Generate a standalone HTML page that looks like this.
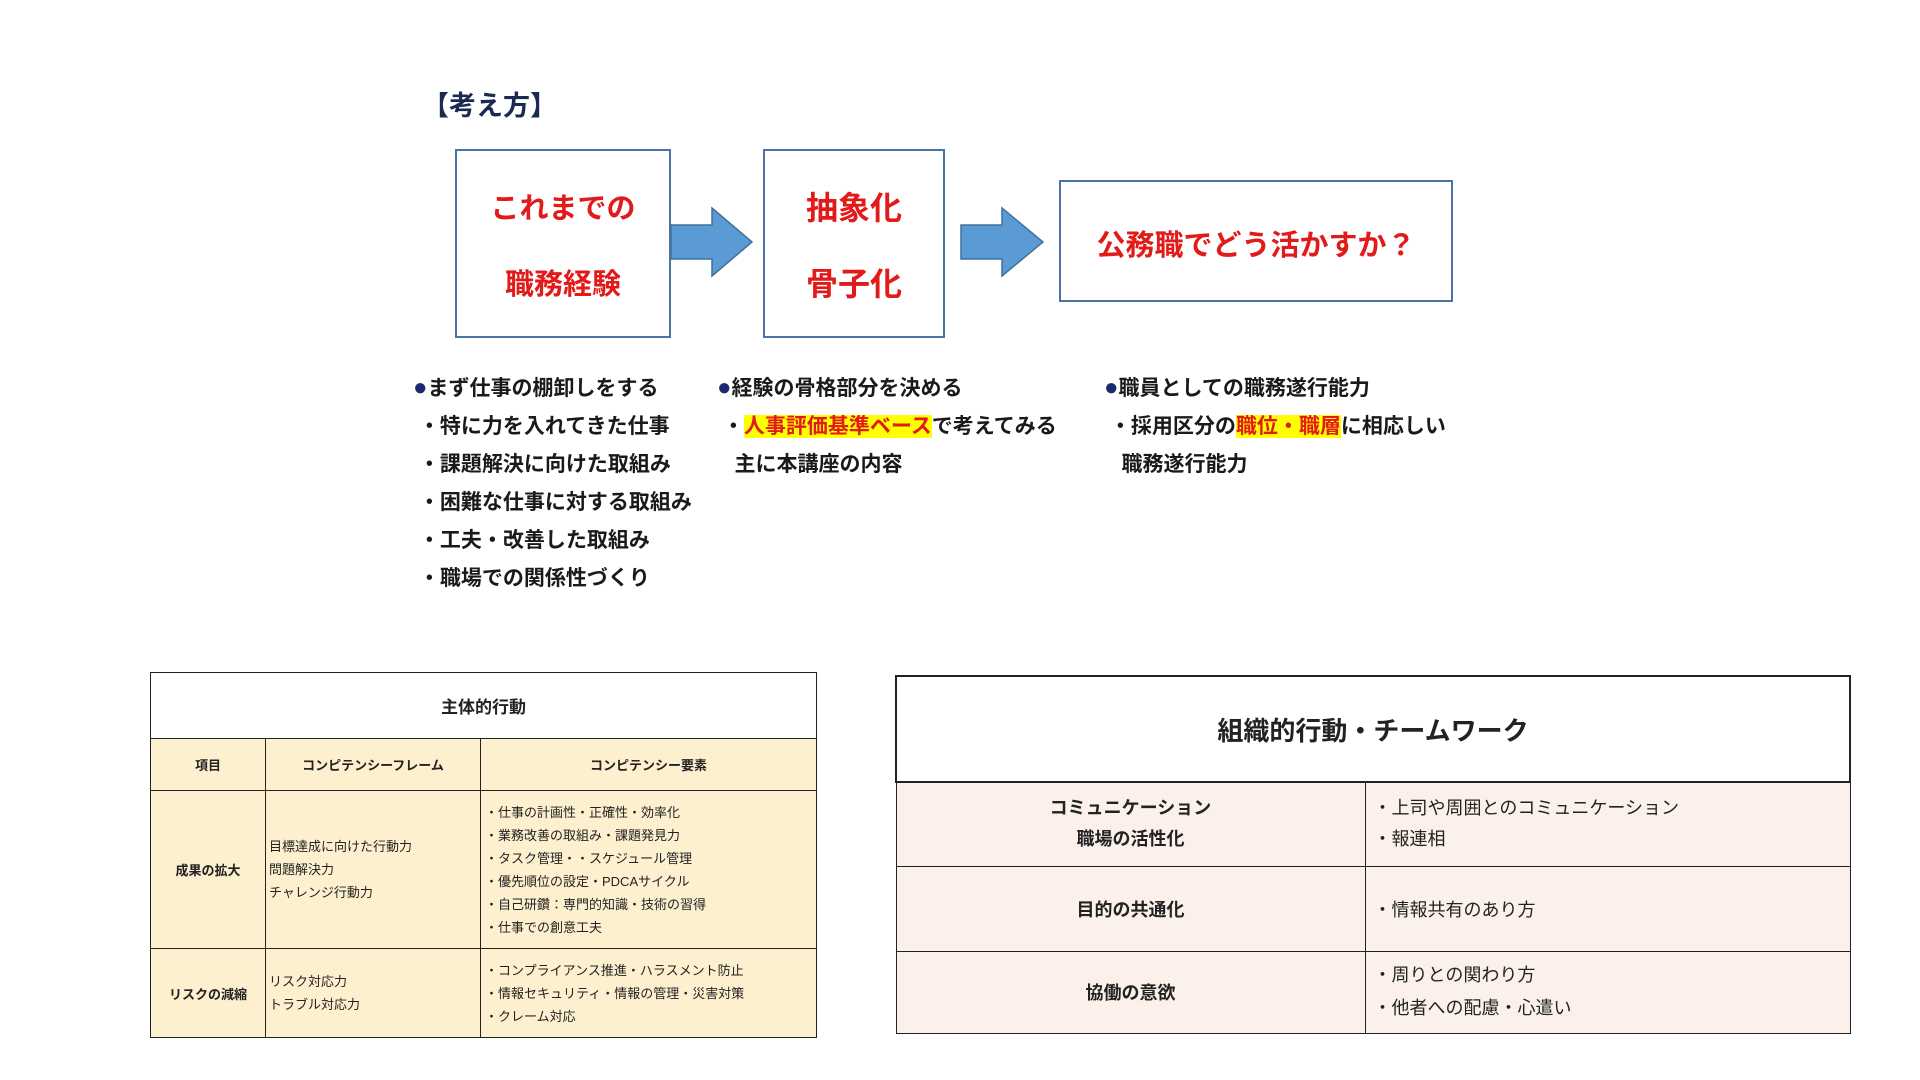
<!DOCTYPE html>
<html><head><meta charset="utf-8"><style>
body{margin:0;width:1920px;height:1080px;background:#fff;position:relative;overflow:hidden;font-family:"Liberation Sans","Noto Sans CJK JP",sans-serif;}
.a{position:absolute;white-space:nowrap}
.box{position:absolute;border:2px solid #4a74a4;box-sizing:border-box;}
.red{color:#e31a1a;font-weight:bold;text-align:center;position:absolute;left:0;right:0}
.bl{font-size:21px;font-weight:bold;color:#1a1a1a}
.hl{background:#ffff00;color:#e31a1a}
.dot{color:#1a2a70;font-size:24px;line-height:20px}
table{position:absolute;border-collapse:collapse;}
td{border:1.5px solid #222;}
</style></head><body>
<div class="a" style="left:422px;top:84px;font-size:27px;font-weight:bold;color:#1a2a50">【考え方】</div>

<div class="box" style="left:455px;top:149px;width:216px;height:189px">
 <div class="red" style="top:34px;font-size:29px">これまでの</div>
 <div class="red" style="top:110px;font-size:29px">職務経験</div>
</div>
<div class="box" style="left:763px;top:149px;width:182px;height:189px">
 <div class="red" style="top:32px;font-size:32px">抽象化</div>
 <div class="red" style="top:108px;font-size:32px">骨子化</div>
</div>
<div class="box" style="left:1059px;top:180px;width:394px;height:122px">
 <div class="red" style="top:40px;font-size:29px">公務職でどう活かすか？</div>
</div>
<svg class="a" style="left:0;top:0" width="1920" height="1080">
 <polygon points="671,225 712,225 712,208 752,242 712,276 712,259 671,259" fill="#5b9bd5" stroke="#41719c" stroke-width="1.5"/>
 <polygon points="961,225 1002,225 1002,208 1043,242 1002,276 1002,259 961,259" fill="#5b9bd5" stroke="#41719c" stroke-width="1.5"/>
</svg>

<div class="a bl" style="left:413px;top:370px;line-height:38px">
<span class="dot">●</span>まず仕事の棚卸しをする<br>&nbsp;・特に力を入れてきた仕事<br>&nbsp;・課題解決に向けた取組み<br>&nbsp;・困難な仕事に対する取組み<br>&nbsp;・工夫・改善した取組み<br>&nbsp;・職場での関係性づくり</div>
<div class="a bl" style="left:717px;top:370px;line-height:38px">
<span class="dot">●</span>経験の骨格部分を決める<br>&nbsp;・<span class="hl">人事評価基準ベース</span>で考えてみる<br>&nbsp;&nbsp;&nbsp;主に本講座の内容</div>
<div class="a bl" style="left:1104px;top:370px;line-height:38px">
<span class="dot">●</span>職員としての職務遂行能力<br>&nbsp;・採用区分の<span class="hl">職位・職層</span>に相応しい<br>&nbsp;&nbsp;&nbsp;職務遂行能力</div>

<table style="left:150px;top:672px;width:667px;height:366px;font-size:13px;color:#222">
<tr style="height:66px;background:#fff"><td colspan="3" style="text-align:center;font-size:17px;font-weight:bold">主体的行動</td></tr>
<tr style="height:52px;background:#fdf0cf;font-weight:bold;text-align:center"><td style="width:112px">項目</td><td style="width:212px">コンピテンシーフレーム</td><td>コンピテンシー要素</td></tr>
<tr style="height:158px;background:#fdf0cf"><td style="text-align:center;font-weight:bold">成果の拡大</td><td style="line-height:23px;padding-left:3px">目標達成に向けた行動力<br>問題解決力<br>チャレンジ行動力</td><td style="line-height:23px;padding-left:4px">・仕事の計画性・正確性・効率化<br>・業務改善の取組み・課題発見力<br>・タスク管理・・スケジュール管理<br>・優先順位の設定・PDCAサイクル<br>・自己研鑽：専門的知識・技術の習得<br>・仕事での創意工夫</td></tr>
<tr style="background:#fdf0cf"><td style="text-align:center;font-weight:bold">リスクの減縮</td><td style="line-height:23px;padding-left:3px">リスク対応力<br>トラブル対応力</td><td style="line-height:23px;padding-left:4px">・コンプライアンス推進・ハラスメント防止<br>・情報セキュリティ・情報の管理・災害対策<br>・クレーム対応</td></tr>
</table>

<table style="left:895px;top:675px;width:956px;height:359px;font-size:18px;color:#222">
<tr style="height:106px;background:#fff"><td colspan="2" style="text-align:center;font-size:26px;font-weight:bold;border-width:2px">組織的行動・チームワーク</td></tr>
<tr style="height:84px;background:#fbf1ea"><td style="width:466px;text-align:center;font-weight:bold;line-height:31px">コミュニケーション<br>職場の活性化</td><td style="line-height:31px;padding-left:8px">・上司や周囲とのコミュニケーション<br>・報連相</td></tr>
<tr style="height:85px;background:#fbf1ea"><td style="text-align:center;font-weight:bold">目的の共通化</td><td style="padding-left:8px">・情報共有のあり方</td></tr>
<tr style="background:#fbf1ea"><td style="text-align:center;font-weight:bold">協働の意欲</td><td style="line-height:33px;padding-left:8px">・周りとの関わり方<br>・他者への配慮・心遣い</td></tr>
</table>
</body></html>
